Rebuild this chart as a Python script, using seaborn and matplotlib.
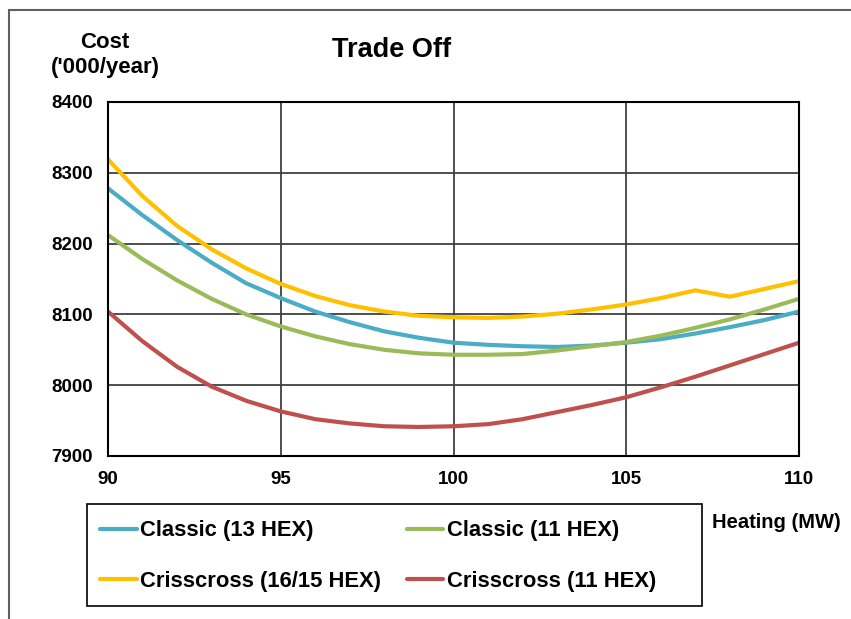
import matplotlib
matplotlib.use("Agg")
import matplotlib.pyplot as plt
import seaborn as sns
import pandas as pd
from matplotlib.patches import Rectangle

heating = list(range(90, 111))
classic_13 = [8278, 8240, 8205, 8173, 8144, 8123, 8104, 8089, 8076, 8067, 8060,
              8057, 8055, 8054, 8056, 8060, 8065, 8073, 8082, 8092, 8104]
classic_11 = [8212, 8178, 8148, 8122, 8100, 8083, 8069, 8058, 8050, 8045, 8043,
              8043, 8044, 8049, 8055, 8061, 8070, 8081, 8093, 8107, 8122]
criss_16 = [8319, 8267, 8225, 8192, 8165, 8143, 8126, 8113, 8104, 8098, 8096,
            8095, 8097, 8101, 8107, 8114, 8123, 8134, 8125, 8136, 8147]
criss_11 = [8104, 8062, 8026, 7998, 7978, 7963, 7952, 7946, 7942, 7941, 7942,
            7945, 7952, 7962, 7972, 7983, 7997, 8012, 8028, 8044, 8060]

names = ["Classic (13 HEX)", "Classic (11 HEX)", "Crisscross (16/15 HEX)", "Crisscross (11 HEX)"]
colors = ["#4BACC6", "#9BBB59", "#FFC000", "#C0504D"]
series = [classic_13, classic_11, criss_16, criss_11]

df = pd.concat([pd.DataFrame({"Heating": heating, "Cost": s, "Series": n})
                for s, n in zip(series, names)], ignore_index=True)

sns.set_theme(style="white")
plt.rcParams["font.family"] = ["Liberation Sans", "DejaVu Sans"]
plt.rcParams["font.weight"] = "bold"
plt.rcParams["text.color"] = "black"
plt.rcParams["xtick.color"] = "black"
plt.rcParams["ytick.color"] = "black"

fig = plt.figure(figsize=(8.51, 6.19), dpi=100)
W, H = 851, 619
ax = fig.add_axes([108 / W, 1 - 456 / H, (799 - 108) / W, (456 - 102) / H])

sns.lineplot(data=df, x="Heating", y="Cost", hue="Series", palette=colors,
             hue_order=names, linewidth=3, ax=ax, legend=False)

ax.set_xlim(90, 110)
ax.set_ylim(7900, 8400)
ax.set_xticks([90, 95, 100, 105, 110])
ax.set_yticks([7900, 8000, 8100, 8200, 8300, 8400])
ax.grid(True, color="#404040", linewidth=1.3)
ax.set_axisbelow(True)
for sp in ax.spines.values():
    sp.set_color("black")
    sp.set_linewidth(1.5)
ax.tick_params(axis="both", direction="out", length=5, width=1, color="#808080",
               labelcolor="black", labelsize=13.5, pad=6)
for lab in ax.get_xticklabels() + ax.get_yticklabels():
    lab.set_fontweight("bold")
ax.set_xlabel("")
ax.set_ylabel("")

fig.text(105 / W, 1 - 42 / H, "Cost", ha="center", va="center", fontsize=16, fontweight="bold")
fig.text(105 / W, 1 - 68 / H, "('000/year)", ha="center", va="center", fontsize=16, fontweight="bold")
fig.text(392 / W, 1 - 50 / H, "Trade Off", ha="center", va="center", fontsize=19.5, fontweight="bold")
fig.text(712 / W, 1 - 522 / H, "Heating (MW)", ha="left", va="center", fontsize=14.5, fontweight="bold")

handles = [plt.Line2D([], [], color=c, linewidth=3) for c in colors]
order = [0, 2, 1, 3]
leg = fig.legend([handles[i] for i in order], [names[i] for i in order], loc="upper left",
                 bbox_to_anchor=(84 / W, 1 - 504 / H),
                 ncol=2, frameon=False,
                 prop={"size": 15.8, "weight": "bold"}, handlelength=1.65, handletextpad=0.15,
                 labelspacing=1.33, borderaxespad=0, borderpad=0.75, columnspacing=1.2)

fig.patches.append(Rectangle((87 / W, 1 - 606 / H), (702 - 87) / W, (606 - 504) / H,
                             transform=fig.transFigure, fill=False, edgecolor="black",
                             linewidth=1.2, figure=fig))
fig.patches.append(Rectangle((9 / W, -0.1), 1.2, 1 - 10 / H + 0.1, transform=fig.transFigure,
                             fill=False, edgecolor="#606060", linewidth=1.5, figure=fig))

fig.savefig("out.png", dpi=100)
